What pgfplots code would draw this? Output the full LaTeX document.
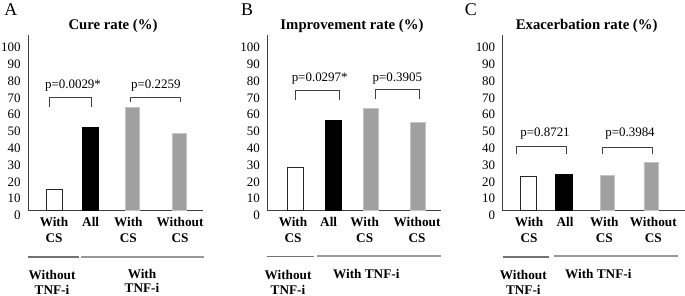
\documentclass[border=0pt]{standalone}
\usepackage{fontspec}
\setmainfont{Liberation Serif}
\usepackage{pgfplots}
\pgfplotsset{compat=1.18}
\definecolor{barg}{HTML}{A0A0A0}
\definecolor{bargedge}{HTML}{C4C4C4}
\definecolor{axcol}{HTML}{404040}
\newcommand\ticksz{\fontsize{13}{15}\selectfont}
\newcommand\catsz{\fontsize{13.3}{15.2}\selectfont\bfseries}
\newcommand\grpsz{\fontsize{13.3}{14.6}\selectfont\bfseries}
\newcommand\pvsz{\fontsize{13}{15}\selectfont}
\newcommand\titsz{\fontsize{14.8}{17}\selectfont\bfseries}
\tikzset{
  brk/.style={draw=axcol, line width=0.8bp},
  g1/.style={draw=black!55, line width=1.2bp},
  g2/.style={draw=black!40, line width=2.8bp},
  grp/.style={font=\grpsz, align=center, inner sep=0.5bp},
}
\pgfplotsset{
  panel/.style={
    scale only axis, anchor=south west,
    height=175.7bp, ymin=2.86, ymax=107.4, xmin=0,
    axis x line=bottom, axis y line=left,
    axis line style={-, draw=axcol, line width=0.9bp},
    major tick length=0pt,
    ytick={10,20,...,100},
    ybar, clip mode=individual,
    /pgf/number format/assume math mode=true,
    yticklabel style={font=\ticksz, xshift=-4bp},
    xticklabel style={font=\catsz, align=center, anchor=north, yshift=-3.5bp},
  },
  wbar/.style={bar shift=0pt, bar width=15.8bp, fill=white, draw=black!85, line width=0.8bp},
  kbar/.style={bar shift=0pt, bar width=16.2bp, fill=black, draw=black, line width=0.4bp},
  gbar/.style={bar shift=0pt, bar width=14.3bp, fill=barg, draw=bargedge, line width=0.5bp},
}
\begin{document}
\begin{tikzpicture}
\useasboundingbox (0,0) rectangle (685bp,296bp);
% ---------- A ----------
\begin{axis}[panel, at={(28bp,85.3bp)}, width=175.3bp, xmax=175.3,
  xtick={26,62.7,100.3,152},
  xticklabels={{With\\CS},{All},{With\\CS},{Without\\CS}}]
\addplot[wbar] coordinates {(26.3,15.8)};
\addplot[kbar] coordinates {(62.5,52.5)};
\addplot[gbar] coordinates {(104.2,64.2) (151.5,48.9)};
\node[anchor=east, font=\ticksz, xshift=-4bp] at (axis cs:0,0) {0};
\draw[brk] (axis cs:21.3,64.4) -- (axis cs:21.3,70.1) -- (axis cs:63.7,70.1) -- (axis cs:63.7,64.4);
\draw[brk] (axis cs:102,67.7) -- (axis cs:102,70.5) -- (axis cs:152,70.5) -- (axis cs:152,67.7);
\node[font=\pvsz] at (axis cs:45,77.1) {p=0.0029*};
\node[font=\pvsz] at (axis cs:127.8,77.1) {p=0.2259};
\node[font=\titsz] at (axis cs:85,112.8) {Cure rate (\%)};
\draw[g1] (axis cs:0,-24.7) -- (axis cs:51,-24.7);
\draw[g2] (axis cs:53,-24.7) -- (axis cs:176,-24.7);
\node[grp] at (axis cs:24,-39.9) {Without\\TNF-i};
\node[grp] at (axis cs:114,-38.9) {With\\TNF-i};
\end{axis}
% ---------- B ----------
\begin{axis}[panel, at={(267.3bp,85.3bp)}, width=174bp, xmax=174,
  xtick={25.7,61.4,97.4,149.7},
  xticklabels={{With\\CS},{All},{With\\CS},{Without\\CS}}]
\addplot[wbar] coordinates {(28.2,28.7)};
\addplot[kbar] coordinates {(65.9,56.8)};
\addplot[gbar] coordinates {(103.4,63.8) (150.4,55.5)};
\node[anchor=east, font=\ticksz, xshift=-4bp] at (axis cs:0,0) {0};
\draw[brk] (axis cs:28.4,68.8) -- (axis cs:28.4,74.7) -- (axis cs:71.7,74.7) -- (axis cs:71.7,68.8);
\draw[brk] (axis cs:107.7,69.2) -- (axis cs:107.7,75.3) -- (axis cs:152.4,75.3) -- (axis cs:152.4,69.2);
\node[font=\pvsz] at (axis cs:52.4,81.7) {p=0.0297*};
\node[font=\pvsz] at (axis cs:130,81.7) {p=0.3905};
\node[font=\titsz] at (axis cs:84.7,112.8) {Improvement rate (\%)};
\draw[g1] (axis cs:0,-24.5) -- (axis cs:46.7,-24.5);
\draw[g2] (axis cs:50,-24.1) -- (axis cs:174,-24.1);
\node[grp] at (axis cs:20.7,-39.9) {Without\\TNF-i};
\node[grp] at (axis cs:99,-34.8) {With TNF-i};
\end{axis}
% ---------- C ----------
\begin{axis}[panel, at={(502.7bp,85.3bp)}, width=182.3bp, xmax=182.3,
  xtick={26.3,62.3,101.6,150.6},
  xticklabels={{With\\CS},{All},{With\\CS},{Without\\CS}}]
\addplot[wbar] coordinates {(25.6,23.5)};
\addplot[kbar] coordinates {(61,24.7)};
\addplot[gbar] coordinates {(104.8,23.7) (148.3,31.4)};
\node[anchor=east, font=\ticksz, xshift=-4bp] at (axis cs:0,0) {0};
\draw[brk] (axis cs:14,36.6) -- (axis cs:14,41) -- (axis cs:63.3,41) -- (axis cs:63.3,36.6);
\draw[brk] (axis cs:100,36.4) -- (axis cs:100,40.6) -- (axis cs:150,40.6) -- (axis cs:150,36.4);
\node[font=\pvsz] at (axis cs:42.3,48.9) {p=0.8721};
\node[font=\pvsz] at (axis cs:127.3,48.9) {p=0.3984};
\node[font=\titsz] at (axis cs:84,112.8) {Exacerbation rate (\%)};
\draw[g1] (axis cs:0,-24.7) -- (axis cs:46.6,-24.7);
\draw[g2] (axis cs:51.6,-24.1) -- (axis cs:175,-24.1);
\node[grp] at (axis cs:20.6,-39.9) {Without\\TNF-i};
\node[grp] at (axis cs:95.6,-34.8) {With TNF-i};
\end{axis}
\node[font=\fontsize{18}{20}\selectfont] at (10.8bp,286.5bp) {A};
\node[font=\fontsize{18}{20}\selectfont] at (247bp,286.8bp) {B};
\node[font=\fontsize{18}{20}\selectfont] at (470.8bp,286.7bp) {C};
\end{tikzpicture}
\end{document}
